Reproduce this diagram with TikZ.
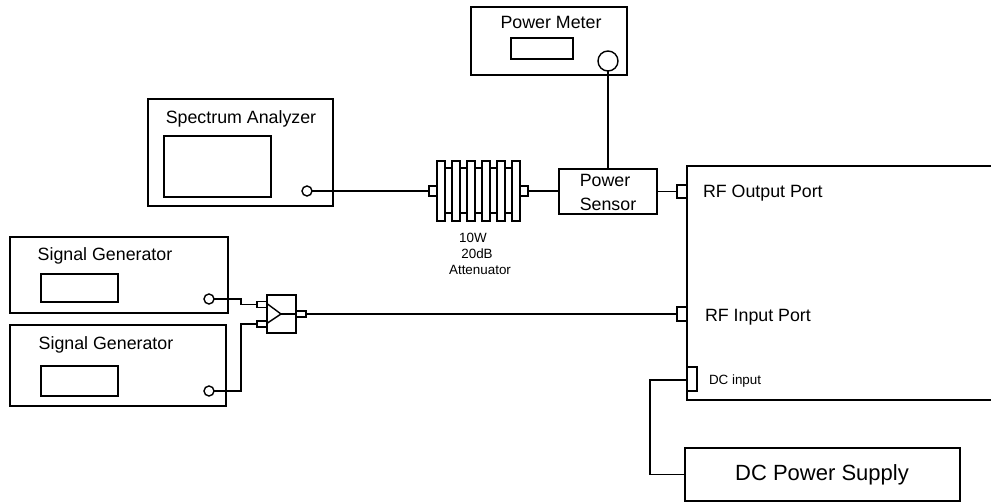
\documentclass[tikz,border=0pt]{standalone}
\usepackage{fontspec}
\setmainfont{Liberation Sans}
\usetikzlibrary{positioning,calc}

\begin{document}
\begin{tikzpicture}[
    x=1pt, y=-1pt,
    line width=1.4pt,
    every node/.style={outer sep=0pt, inner sep=0pt},
    unit/.style={draw, fill=white, rectangle},
    screen/.style={draw, fill=white, rectangle},
    port/.style={draw, fill=white, rectangle},
    knob/.style={draw, fill=white, circle, minimum size=10pt},
    fin/.style={draw, fill=white, rectangle, minimum width=8pt, minimum height=60pt},
    lbl/.style={font=\fontsize{17.8}{20}\selectfont, yshift=-1.8pt},
    lblsmall/.style={font=\fontsize{13.4}{16}\selectfont, yshift=-1.2pt}
]
\useasboundingbox (0,0) rectangle (991,502);

% Column and row positions
\def\colSig{209}
\def\bendX{241}
\def\attY{191}
\def\inY{314}

% === Power meter ===
\node[unit, minimum width=156pt, minimum height=68pt] (meter) at (549,41) {};
\node[screen, minimum width=62pt, minimum height=21pt] (meterScreen) at (542,48.5) {};
\node[knob, minimum size=20pt] (meterHead) at (608,61) {};
\node[lbl] (meterLabel) at (551,21) {Power Meter};

% === Spectrum analyzer ===
\node[unit, minimum width=185pt, minimum height=107pt] (analyzer) at (240.5,152.5) {};
\node[screen, minimum width=107pt, minimum height=61pt] (analyzerScreen) at (217.5,166.5) {};
\node[knob] (analyzerOut) at (307,\attY) {};
\node[lbl] (analyzerLabel) at (241,117) {Spectrum Analyzer};

% === Signal generators ===
\node[unit, minimum width=218pt, minimum height=76pt] (genA) at (119,275) {};
\node[screen, minimum width=77pt, minimum height=28pt] (genAScreen) at (79.5,288) {};
\node[knob] (genAOut) at (\colSig,299) {};
\node[lbl] (genALabel) at (105,254) {Signal Generator};

\node[unit, minimum width=216pt, minimum height=81pt] (genB) at (118,365.5) {};
\node[screen, minimum width=77pt, minimum height=30pt] (genBScreen) at (79.5,381) {};
\node[knob] (genBOut) at (\colSig,391) {};
\node[lbl] (genBLabel) at (106,343) {Signal Generator};

% === Combiner ===
\node[unit, minimum width=29pt, minimum height=38pt] (comb) at (281.5,314) {};
\node[port, minimum width=10pt, minimum height=6pt] (combInA) at (262,304.5) {};
\node[port, minimum width=10pt, minimum height=6pt] (combInB) at (262,324) {};
\node[port, minimum width=10pt, minimum height=6pt] (combOut) at (301,\inY) {};
\coordinate (combTop) at (267.5,304);
\coordinate (combBot) at (267.5,323);
\coordinate (combTip) at (281,\inY);
\draw (combTop) -- (combTip) -- (combBot);
\draw (combTip) -- (comb.east);

\coordinate (bendA) at (\bendX,299);
\coordinate (bendB) at (\bendX,391);
\draw (genAOut) -- (bendA) |- (combInA);
\draw (genBOut) -- (bendB) |- (combInB);

% === Attenuator ===
\node[draw, rectangle, minimum width=80pt, minimum height=45pt] (attBody) at (478.5,190.5) {};
\foreach \i/\x in {1/441,2/456,3/471,4/486,5/501,6/516}
    \node[fin] (fin\i) at (\x,191) {};
\node[port, minimum width=8pt, minimum height=10pt] (attIn) at (433,\attY) {};
\node[port, minimum width=8pt, minimum height=10pt] (attOut) at (524,\attY) {};
\node[lblsmall] (attWatt) at (473,237) {10W};
\node[lblsmall] (attDb) at (477,253) {20dB};
\node[lblsmall] (attName) at (480,269) {Attenuator};

% === Power sensor ===
\node[unit, minimum width=98pt, minimum height=45pt] (sensor) at (608,191.5) {};
\node[lbl] (sensorTop) at (605,179) {Power};
\node[lbl] (sensorBot) at (608,203) {Sensor};

% === Amplifier under test, open on the right ===
\coordinate (dutTR) at (991,166);
\coordinate (dutTL) at (687,166);
\coordinate (dutBL) at (687,400);
\coordinate (dutBR) at (991,400);
\draw (dutTR) -- (dutTL) -- (dutBL) -- (dutBR);
\node[port, minimum width=10pt, minimum height=13pt] (outPort) at (682,191.5) {};
\node[port, minimum width=10pt, minimum height=14pt] (inPort) at (682,\inY) {};
\node[port, minimum width=10pt, minimum height=24pt] (dcPort) at (692,379) {};
\node[lbl, anchor=west] (outLabel) at (703,191) {RF Output Port};
\node[lbl, anchor=west] (inLabel) at (705,315) {RF Input Port};
\node[lblsmall, anchor=west] (dcLabel) at (709,380) {DC input};

% === DC supply ===
\node[unit, minimum width=275pt, minimum height=53pt] (supply) at (822.5,474.5) {};
\node[font=\fontsize{22}{26}\selectfont, yshift=-2.2pt] (supplyLabel) at (822,473) {DC Power Supply};
\coordinate (dcBend) at (650,380);
\draw (dcPort.west |- dcBend) -- (dcBend) |- (supply.west);

% === Connections ===
\draw (meterHead) -- (meterHead |- sensor.north);
\draw (analyzerOut) -- (attIn);
\draw (attOut) -- (attOut -| sensor.west);
\draw (sensor.east |- outPort) -- (outPort);
\draw (combOut) -- (inPort);
\end{tikzpicture}
\end{document}
